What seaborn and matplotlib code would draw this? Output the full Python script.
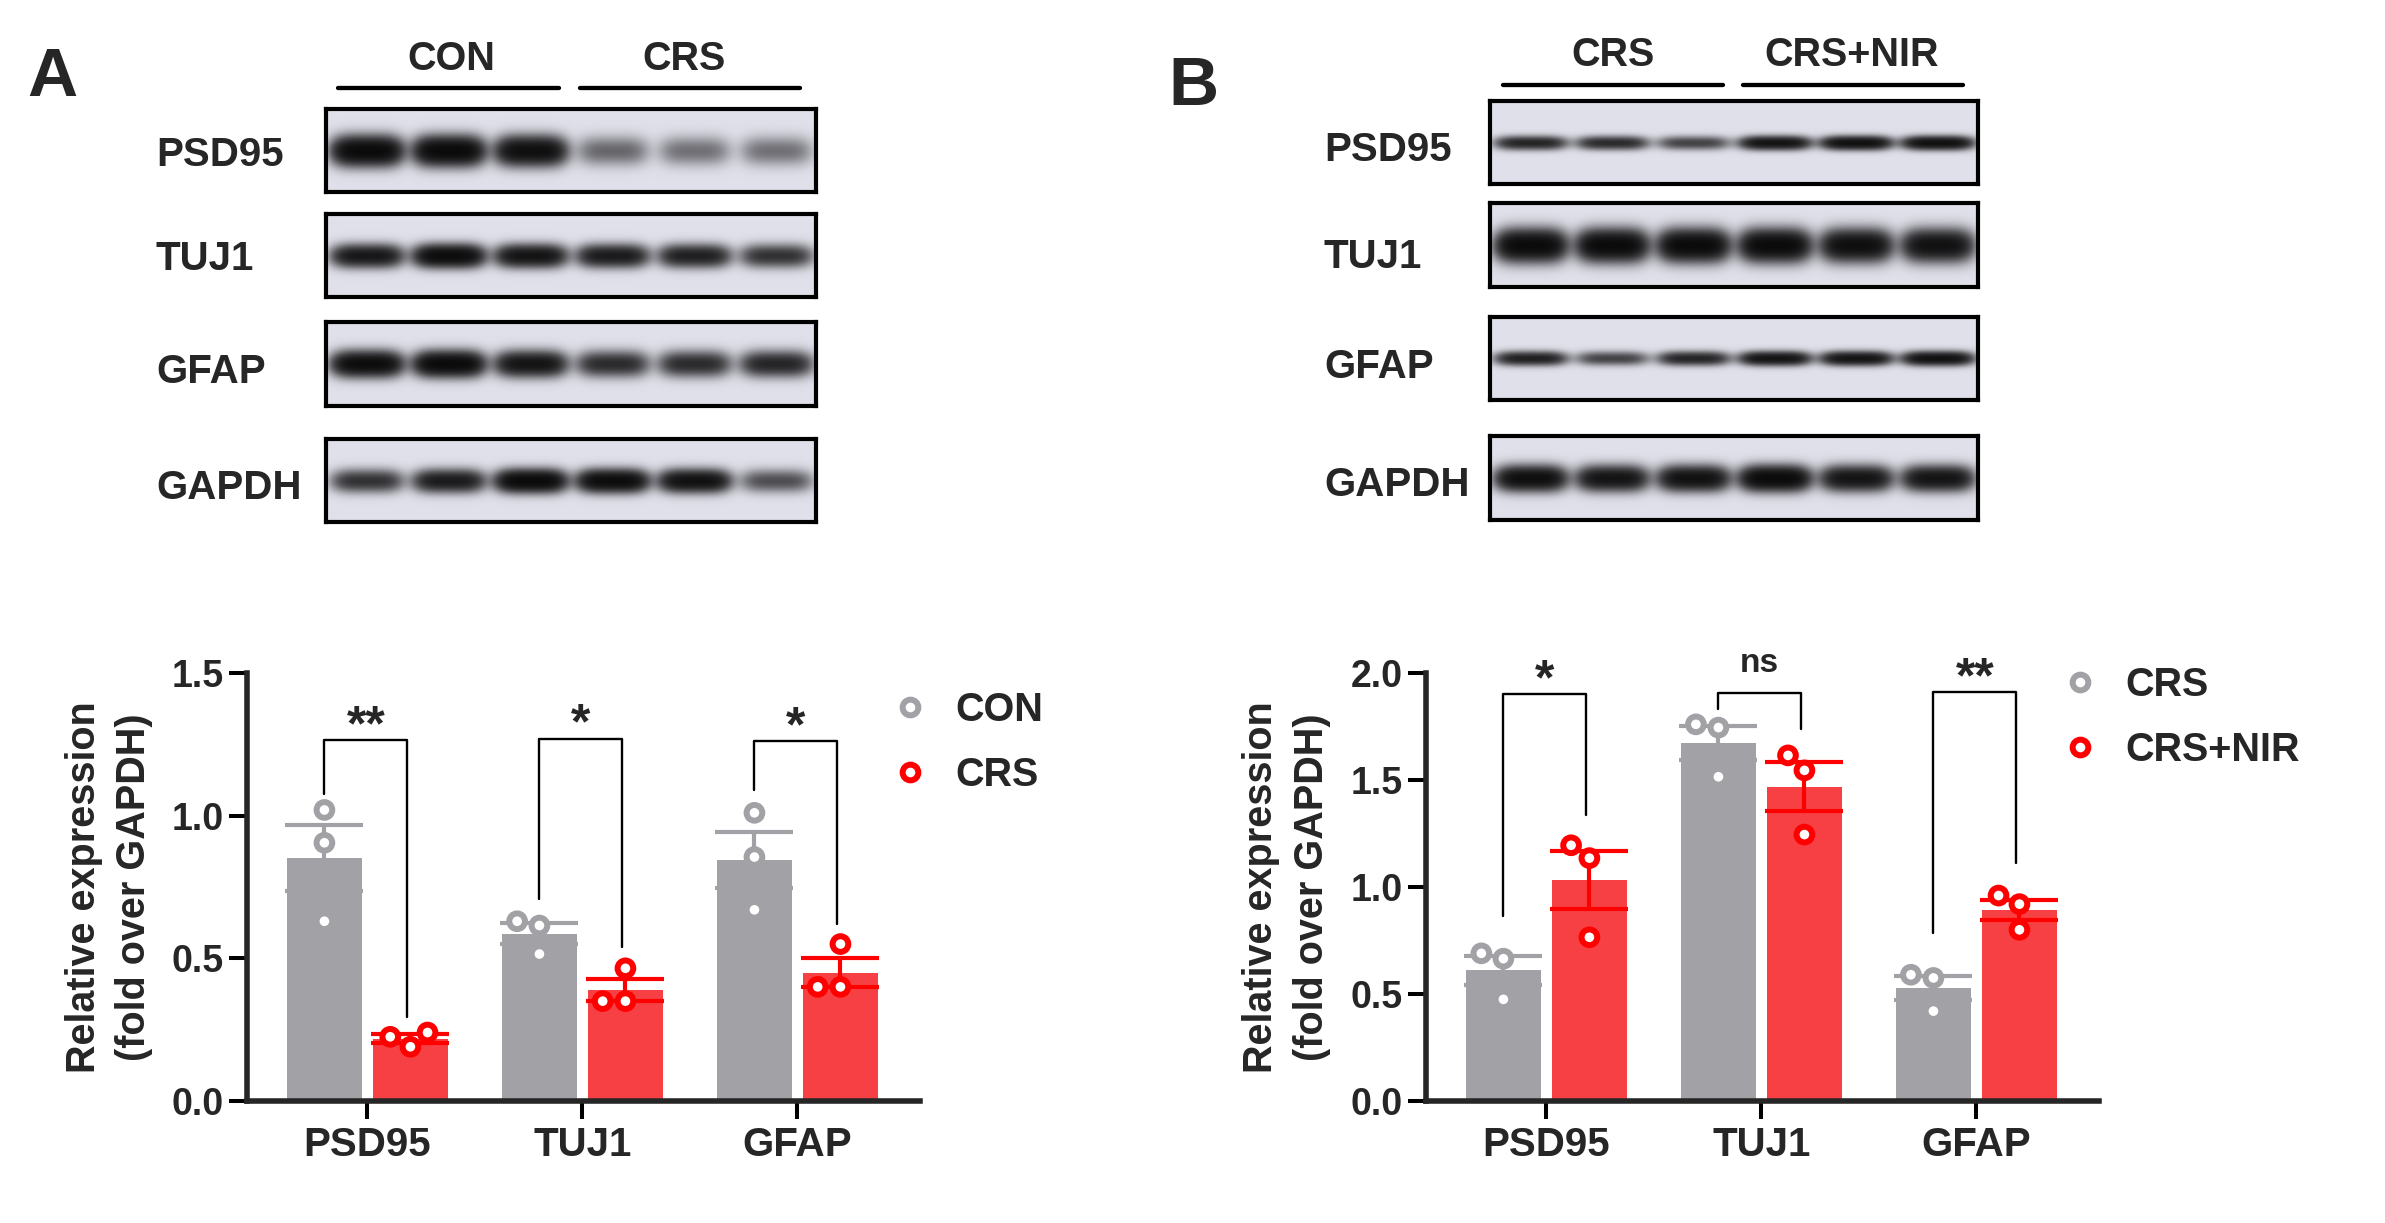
import numpy as np
import pandas as pd
import matplotlib
matplotlib.use('Agg')
import matplotlib.pyplot as plt
import seaborn as sns
from matplotlib.lines import Line2D

W, H = 2385, 1223

# quantified values (fold over GAPDH), one list of 3 replicates per marker
markers = ['PSD95', 'TUJ1', 'GFAP']

groups_a = ['CON', 'CRS']
con_a = [[1.02, 0.905, 0.63], [0.615, 0.63, 0.515], [1.01, 0.855, 0.67]]
crs_a = [[0.19, 0.24, 0.225], [0.465, 0.35, 0.35], [0.55, 0.40, 0.40]]
sig_a = ['**', '*', '*']
bracket_a = [1.265, 1.27, 1.26]
legs_a = [(1.075, 0.295), (0.708, 0.54), (1.09, 0.62)]

groups_b = ['CRS', 'CRS+NIR']
crs_b = [[0.69, 0.665, 0.475], [1.745, 1.76, 1.515], [0.575, 0.59, 0.42]]
nir_b = [[1.195, 1.135, 0.765], [1.615, 1.545, 1.245], [0.92, 0.96, 0.80]]
sig_b = ['*', 'ns', '**']
bracket_b = [1.9, 1.905, 1.91]
legs_b = [(0.865, 1.335), (1.83, 1.74), (0.785, 1.11)]

# western blot band strengths (6 lanes per row)
blot_rows = ['PSD95', 'TUJ1', 'GFAP', 'GAPDH']
bands_a = [[1.0, 1.0, 0.9, 0.26, 0.23, 0.23],
           [0.75, 0.95, 0.8, 0.7, 0.65, 0.5],
           [0.95, 1.0, 0.8, 0.55, 0.55, 0.6],
           [0.5, 0.7, 1.0, 0.95, 0.85, 0.35]]
bands_b = [[0.6, 0.55, 0.4, 0.8, 0.85, 0.85],
           [1.0, 1.0, 1.0, 1.0, 0.9, 0.85],
           [0.65, 0.4, 0.6, 0.8, 0.8, 0.85],
           [0.9, 0.8, 0.85, 1.0, 0.8, 0.8]]

GREY, RED_BAR, RED_PT = '#a2a1a6', '#f74044', '#ff0000'

sns.set_style('ticks')
plt.rcParams['font.family'] = ['Liberation Sans', 'DejaVu Sans']
plt.rcParams['font.weight'] = 'bold'
plt.rcParams['axes.labelweight'] = 'bold'

fig = plt.figure(figsize=(W / 100, H / 100), dpi=100)


def fx(px):
    return px / W


def fy(py):
    return 1 - py / H


def long_df(groups, series):
    rows = []
    for g, vals in zip(groups, series):
        for m, pts in zip(markers, vals):
            for v in pts:
                rows.append((m, g, v))
    return pd.DataFrame(rows, columns=['marker', 'group', 'value'])


def bar_panel(left_px, df, groups, ymax, sig, brk, legs, leg_xy, ylab_x):
    ax = fig.add_axes([fx(left_px), fy(1101), 673 / W, 428 / H])
    bar_pal = dict(zip(groups, [GREY, RED_BAR]))
    pt_pal = dict(zip(groups, [GREY, RED_PT]))
    sns.barplot(data=df, x='marker', y='value', hue='group', order=markers,
                hue_order=groups, palette=bar_pal, errorbar=None, width=0.8,
                gap=0.12, saturation=1, linewidth=0, legend=False, ax=ax)
    n0 = len(ax.collections)
    sns.swarmplot(data=df, x='marker', y='value', hue='group', order=markers,
                  hue_order=groups, palette=pt_pal, dodge=True, size=11.3,
                  linewidth=4.3, legend=False, ax=ax)
    for c in ax.collections[n0:]:
        c.set_edgecolor(c.get_facecolor())
        c.set_facecolor('white')
        c.set_zorder(4)
        c.set_clip_on(False)

    # mean +/- SEM
    stats = df.groupby(['group', 'marker'])['value'].agg(['mean', 'sem'])
    for i, g in enumerate(groups):
        for j, m in enumerate(markers):
            mu, se = stats.loc[(g, m)]
            ax.errorbar(j + (i - 0.5) * 0.4, mu, yerr=se, color=pt_pal[g],
                        elinewidth=3, capsize=28, capthick=3, zorder=3)

    # significance brackets
    for j in range(len(markers)):
        xl, xr = j - 0.2, j + 0.185
        ax.plot([xl, xl, xr, xr], [legs[j][0], brk[j], brk[j], legs[j][1]],
                color='black', lw=1.7, clip_on=False, zorder=5)
        is_ns = sig[j] == 'ns'
        ax.annotate(sig[j], xy=((xl + xr) / 2, brk[j]),
                    xytext=(0, 15 if is_ns else 0), textcoords='offset points',
                    ha='center', va='baseline', fontsize=24 if is_ns else 36,
                    fontweight='bold', annotation_clip=False)

    ax.set_xlim(-0.56, 2.57)
    ax.set_ylim(0, ymax)
    ticks = np.arange(0, ymax + 0.01, 0.5)
    ax.set_yticks(ticks)
    ax.set_yticklabels([f'{t:.1f}' for t in ticks])
    sns.despine(ax=ax)
    for s in ['left', 'bottom']:
        ax.spines[s].set_linewidth(4)
    ax.tick_params(axis='both', width=2.9, length=13, direction='out', color='black')
    ax.tick_params(axis='y', labelsize=27, pad=3.6)
    ax.tick_params(axis='x', labelsize=29, pad=5)
    ax.set_xlabel('')
    ax.set_ylabel('Relative expression\n(fold over GAPDH)', fontsize=28.5,
                  fontweight='bold', linespacing=1.42, va='center')
    ax.yaxis.set_label_coords(ylab_x, 0.5)

    handles = [Line2D([], [], ls='', marker='o', ms=11.3, mew=4.3, mfc='white',
                      mec=pt_pal[g]) for g in groups]
    ax.legend(handles, groups, loc='upper left',
              bbox_to_anchor=(fx(leg_xy[0]), fy(leg_xy[1])),
              bbox_transform=fig.transFigure, frameon=False, borderpad=0,
              handlelength=1.0, handletextpad=0.66, labelspacing=0.69,
              prop={'size': 28.5, 'weight': 'bold'})
    return ax


def blot_panel(x0, x1, rows_y, bands, wys, label_x, label_ys):
    bg = np.array([0.88, 0.88, 0.92])
    for (y0, y1), strengths, wy, name, ly in zip(rows_y, bands, wys, blot_rows, label_ys):
        ax = fig.add_axes([fx(x0), fy(y1), (x1 - x0) / W, (y1 - y0) / H])
        h, w = int(y1 - y0), int(x1 - x0)
        yy, xx = np.mgrid[0:h, 0:w]
        dark = np.zeros((h, w))
        for k, s in enumerate(strengths):
            cx = (k + 0.5) / len(strengths) * w
            dark += s * np.exp(-np.abs((xx - cx) / 34) ** 4) * np.exp(-((yy - h * 0.5) / wy) ** 2)
        dark = 1 - np.exp(-3 * dark)
        img = bg[None, None, :] * (1 - dark[..., None])
        ax.imshow(img, aspect='auto', interpolation='bilinear')
        ax.set_xticks([])
        ax.set_yticks([])
        for sp in ax.spines.values():
            sp.set_visible(True)
            sp.set_linewidth(3)
            sp.set_color('black')
        fig.text(fx(label_x), fy(ly), name, ha='left', va='center',
                 fontsize=29, fontweight='bold')


def group_header(labels, centers, spans, ty, ly):
    for lab, cx, (a, b) in zip(labels, centers, spans):
        fig.text(fx(cx), fy(ty), lab, ha='center', va='center', fontsize=28.5,
                 fontweight='bold')
        fig.add_artist(Line2D([fx(a), fx(b)], [fy(ly), fy(ly)], color='black',
                              lw=3.1, transform=fig.transFigure))


# ---- panel A ----
fig.text(fx(52), fy(78), 'A', ha='center', va='center', fontsize=50, fontweight='bold')
group_header(groups_a, [451, 684], [(338, 559), (580, 800)], 59, 88)
blot_panel(326, 816, [(109, 192), (214, 297), (322, 406), (439, 522)], bands_a,
           [13, 10, 11, 10], 156, [155, 259, 372, 488])
bar_panel(247, long_df(groups_a, [con_a, crs_a]), groups_a, 1.5, sig_a,
          bracket_a, legs_a, (870, 671), -0.205)

# ---- panel B ----
fig.text(fx(1193), fy(87), 'B', ha='center', va='center', fontsize=50, fontweight='bold')
group_header(groups_b, [1613, 1852], [(1503, 1723), (1743, 1963)], 55, 85)
blot_panel(1490, 1978, [(101, 184), (203, 287), (317, 400), (436, 520)], bands_b,
           [6, 14, 6, 11], 1324, [150, 257, 367, 485])
bar_panel(1426, long_df(groups_b, [crs_b, nir_b]), groups_b, 2.0, sig_b,
          bracket_b, legs_b, (2040, 646), -0.207)

fig.savefig('out.png', dpi=100)
